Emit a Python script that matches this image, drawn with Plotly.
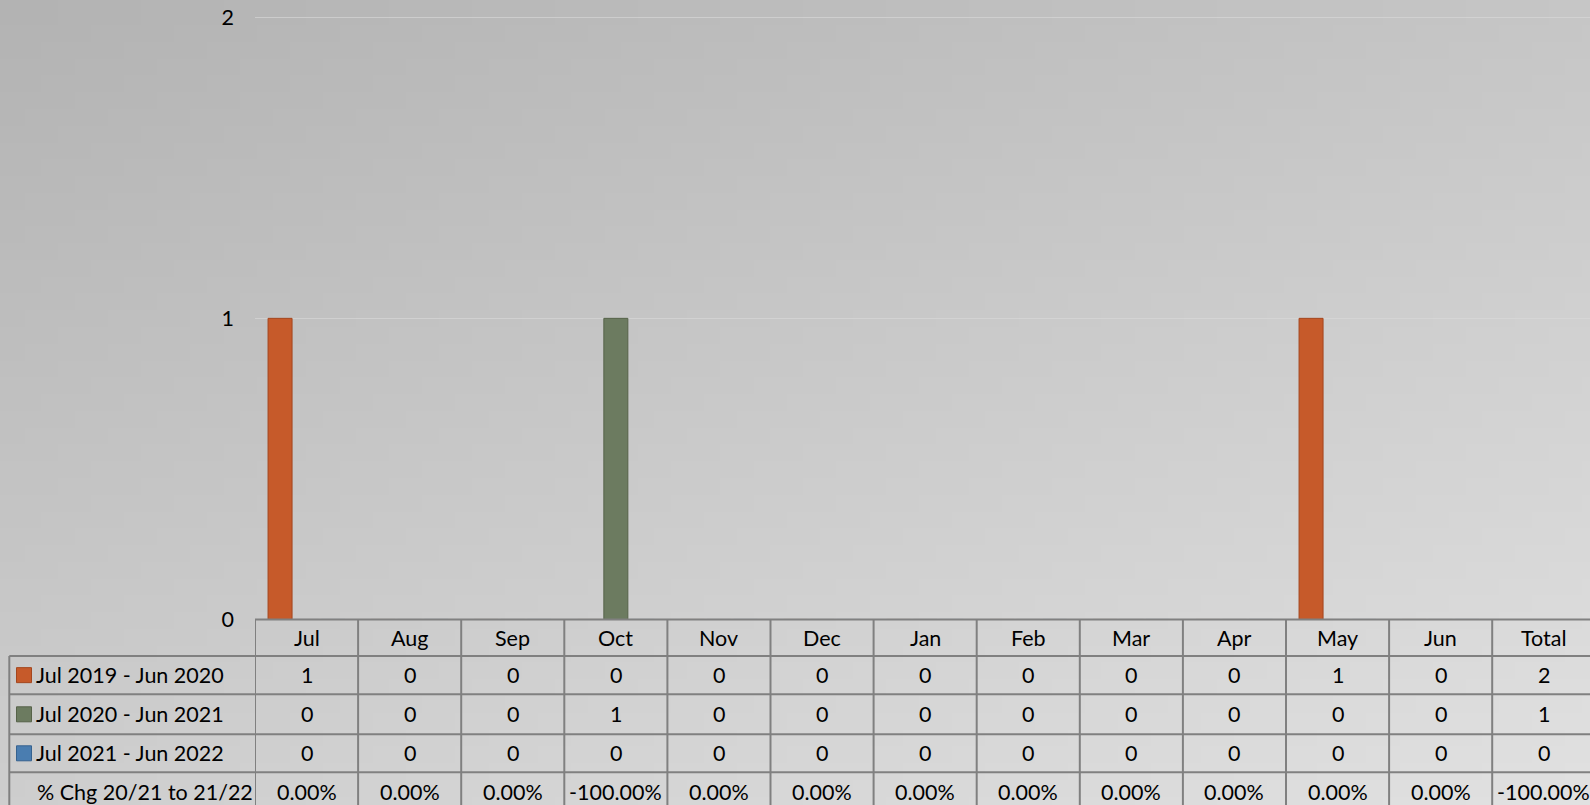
import base64
import struct
import zlib

import plotly.graph_objects as go

# ---------------- data ----------------
months = ["Jul", "Aug", "Sep", "Oct", "Nov", "Dec", "Jan", "Feb", "Mar", "Apr", "May", "Jun"]
total_label = "Total"
series_names = ["Jul 2019 - Jun 2020", "Jul 2020 - Jun 2021", "Jul 2021 - Jun 2022"]
s2019 = [1, 0, 0, 0, 0, 0, 0, 0, 0, 0, 1, 0]
s2020 = [0, 0, 0, 1, 0, 0, 0, 0, 0, 0, 0, 0]
s2021 = [0, 0, 0, 0, 0, 0, 0, 0, 0, 0, 0, 0]
totals = [2, 1, 0]
pct_label = "% Chg 20/21 to 21/22"
pct_chg = ["0.00%", "0.00%", "0.00%", "-100.00%", "0.00%", "0.00%", "0.00%", "0.00%",
           "0.00%", "0.00%", "0.00%", "0.00%", "-100.00%"]
y_ticks = [0, 1, 2]

# ---------------- styles ----------------
W, H = 1590, 805
colors = ["#C65A2A", "#6C7B60", "#4A7DB0"]
edge_colors = ["#A4461E", "#566249", "#36628F"]
FONT = "Lato"
FS = 21.5
line_col = "#808080"

plot_left = 255.0
plot_bottom = 619.5
unit_px = (619.5 - 17.2) / 2
y_max = 2.012
plot_top = plot_bottom - unit_px * y_max
col_w = 103.1
x_range = [-0.5, -0.5 + (W - plot_left) / col_w]
row_lines = [656.0, 694.3, 734.3, 772.3, 811.0]
legend_left = 9.3


def py(p):
    return 1 - p / H


def px(p):
    return p / W


# ---------------- background gradient ----------------
def gradient_png(w=96, h=48):
    rows = []
    for j in range(h):
        fy = j / (h - 1)
        row = bytearray([0])
        for i in range(w):
            fx = i / (w - 1)
            v = 179 + 19 * fx + 27 * fy
            row.append(max(0, min(255, int(round(v)))))
        rows.append(bytes(row))
    raw = b"".join(rows)

    def chunk(t, d):
        c = struct.pack(">I", len(d)) + t + d
        return c + struct.pack(">I", zlib.crc32(t + d) & 0xFFFFFFFF)

    data = (b"\x89PNG\r\n\x1a\n"
            + chunk(b"IHDR", struct.pack(">IIBBBBB", w, h, 8, 0, 0, 0, 0))
            + chunk(b"IDAT", zlib.compress(raw))
            + chunk(b"IEND", b""))
    return "data:image/png;base64," + base64.b64encode(data).decode()


# ---------------- figure ----------------
fig = go.Figure()
categories = list(range(len(months)))
for name, vals, c, ec in zip(series_names, [s2019, s2020, s2021], colors, edge_colors):
    fig.add_trace(go.Bar(
        x=categories, y=vals, name=name,
        marker=dict(color=c, line=dict(color=ec, width=1)),
        showlegend=False, hoverinfo="skip",
    ))

shapes = []
annotations = []

# horizontal table lines
shapes.append(dict(type="line", xref="paper", yref="paper", x0=px(plot_left), x1=1,
                   y0=py(plot_bottom), y1=py(plot_bottom), line=dict(color=line_col, width=2)))
for yl in row_lines[:-1]:
    shapes.append(dict(type="line", xref="paper", yref="paper", x0=px(legend_left), x1=1,
                       y0=py(yl), y1=py(yl), line=dict(color=line_col, width=2)))
# vertical table lines
n_cols = len(months) + 1
for k in range(n_cols + 1):
    shapes.append(dict(type="line", xref="x", yref="paper", x0=k - 0.5, x1=k - 0.5,
                       y0=py(plot_bottom), y1=py(row_lines[-1]), line=dict(color=line_col, width=2)))
shapes.append(dict(type="line", xref="paper", yref="paper", x0=px(legend_left), x1=px(legend_left),
                   y0=py(row_lines[0]), y1=py(row_lines[-1]), line=dict(color=line_col, width=2)))

# header row
row_centers = [(plot_bottom + row_lines[0]) / 2] + [
    (row_lines[i] + row_lines[i + 1]) / 2 for i in range(len(row_lines) - 1)]
for i, m in enumerate(months + [total_label]):
    annotations.append(dict(x=i, y=py(row_centers[0]), xref="x", yref="paper", text=m,
                            showarrow=False, xanchor="center", yanchor="middle"))

# series rows
for r, (name, vals, tot, c, ec) in enumerate(zip(series_names, [s2019, s2020, s2021], totals,
                                                 colors, edge_colors)):
    yc = row_centers[r + 1]
    shapes.append(dict(type="rect", xref="paper", yref="paper", x0=px(16.5), x1=px(31.5),
                       y0=py(yc + 7.5), y1=py(yc - 7.5), fillcolor=c, line=dict(color=ec, width=1)))
    annotations.append(dict(x=px(33.5), y=py(yc), xref="paper", yref="paper", text=name,
                            showarrow=False, xanchor="left", yanchor="middle"))
    for i, v in enumerate(vals + [tot]):
        annotations.append(dict(x=i, y=py(yc), xref="x", yref="paper", text=str(v),
                                showarrow=False, xanchor="center", yanchor="middle"))

# % change row
yc = row_centers[4]
annotations.append(dict(x=px(35), y=py(yc), xref="paper", yref="paper", text=pct_label,
                        showarrow=False, xanchor="left", yanchor="middle"))
for i, v in enumerate(pct_chg):
    annotations.append(dict(x=i, y=py(yc), xref="x", yref="paper", text=v,
                            showarrow=False, xanchor="center", yanchor="middle"))

fig.update_layout(
    width=W, height=H,
    margin=dict(l=0, r=0, t=0, b=0, pad=0, autoexpand=False),
    paper_bgcolor="#c6c6c6",
    plot_bgcolor="rgba(0,0,0,0)",
    font=dict(family=FONT, size=FS, color="black"),
    barmode="group", bargap=0.229, bargroupgap=0.094,
    showlegend=False,
    xaxis=dict(domain=[px(plot_left), 1], range=x_range, showticklabels=False, automargin=False,
               showgrid=False, zeroline=False, showline=False, ticks=""),
    yaxis=dict(domain=[py(plot_bottom), py(plot_top)], range=[0, y_max], tickvals=y_ticks,
               automargin=False,
               showgrid=True, gridcolor="rgba(218,218,218,0.6)", gridwidth=1.2,
               zeroline=False, showline=False, ticks="", ticklabelstandoff=20,
               tickfont=dict(family=FONT, size=FS, color="black")),
    shapes=shapes,
    annotations=annotations,
    images=[dict(source=gradient_png(), xref="paper", yref="paper", x=0, y=1, sizex=1, sizey=1,
                 sizing="stretch", layer="below", xanchor="left", yanchor="top")],
)

fig.write_html("out.html", config={"displayModeBar": False},
               post_script="document.body.style.margin='0';document.body.style.overflow='hidden';")
